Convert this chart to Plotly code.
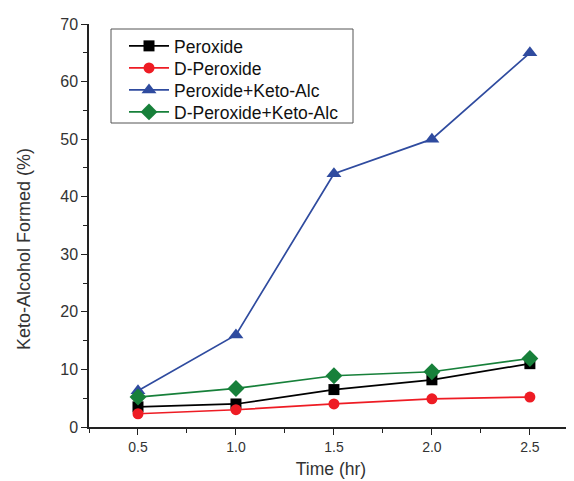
import plotly.graph_objects as go

time_hr = [0.5, 1.0, 1.5, 2.0, 2.5]
peroxide = [3.5, 4.0, 6.5, 8.2, 11.0]
d_peroxide = [2.3, 3.0, 4.0, 4.9, 5.2]
peroxide_keto = [6.3, 16.0, 44.0, 50.0, 65.0]
d_peroxide_keto = [5.2, 6.7, 8.9, 9.6, 11.9]
x_ticks = [0.5, 1.0, 1.5, 2.0, 2.5]
x_tick_labels = ["0.5", "1.0", "1.5", "2.0", "2.5"]

series = [
    ("Peroxide", peroxide, "#000000", "square", 11),
    ("D-Peroxide", d_peroxide, "#ee1c24", "circle", 11),
    ("Peroxide+Keto-Alc", peroxide_keto, "#2f4b9f", "triangle-up", 13),
    ("D-Peroxide+Keto-Alc", d_peroxide_keto, "#17803a", "diamond", 13),
]

# page-pixel geometry helpers (figure offset by 8px body margin)
PL, PR, PT, PB = 89, 573, 24, 427
def px(x):
    return (x - PL) / (PR - PL)
def py(y):
    return (PB - y) / (PB - PT)

legend_names = ["legend", "legend2", "legend3", "legend4"]
row_y = [46, 68, 90, 112]

fig = go.Figure()
for (name, vals, color, sym, size), lg in zip(series, legend_names):
    fig.add_trace(go.Scatter(
        x=time_hr, y=vals, name=name, mode="lines+markers",
        line=dict(color=color, width=1.7),
        marker=dict(symbol=sym, size=size, color=color),
        legend=lg,
    ))

layout_legends = {}
for lg, yy in zip(legend_names, row_y):
    layout_legends[lg] = dict(
        x=px(124), y=py(yy), xanchor="left", yanchor="middle",
        bgcolor="rgba(0,0,0,0)", borderwidth=0,
        font=dict(size=17.5, color="#111", family="Liberation Sans, Arial, sans-serif"),
        itemwidth=40,
    )

fig.update_layout(
    width=566, height=473,
    margin=dict(l=81, r=1, t=16, b=54, autoexpand=False),
    paper_bgcolor="white", plot_bgcolor="white",
    font=dict(family="Liberation Sans, Arial, sans-serif", color="#333", size=14),
    showlegend=True,
    **layout_legends,
    shapes=[dict(
        type="rect", xref="paper", yref="paper",
        x0=px(111), x1=px(353), y0=py(123), y1=py(29),
        line=dict(color="#555", width=1), fillcolor="white", layer="below",
    )],
    annotations=[dict(
        text="Keto-Alcohol Formed (%)", textangle=-90,
        xref="paper", yref="paper", x=px(24), y=py(249),
        xanchor="center", yanchor="middle", showarrow=False,
        font=dict(size=18, color="#333"),
    )],
    xaxis=dict(
        range=[0.25, 2.72], tickvals=x_ticks, ticktext=x_tick_labels,
        showgrid=False, zeroline=False, showline=True, linecolor="#222", linewidth=1.5,
        ticks="outside", ticklen=6, tickcolor="#222",
        minor=dict(ticks="outside", dtick=0.25, tick0=0.25, ticklen=4, tickcolor="#222"),
        title=dict(text="Time (hr)", font=dict(size=17.5), standoff=9),
        tickfont=dict(size=14),
    ),
    yaxis=dict(
        range=[0, 70], dtick=10,
        showgrid=False, zeroline=False, showline=True, linecolor="#222", linewidth=1.5,
        ticks="outside", ticklen=6, tickcolor="#222",
        minor=dict(ticks="outside", dtick=5, ticklen=4, tickcolor="#222"),
        tickfont=dict(size=16),
    ),
)

fig.write_html("out.html")
